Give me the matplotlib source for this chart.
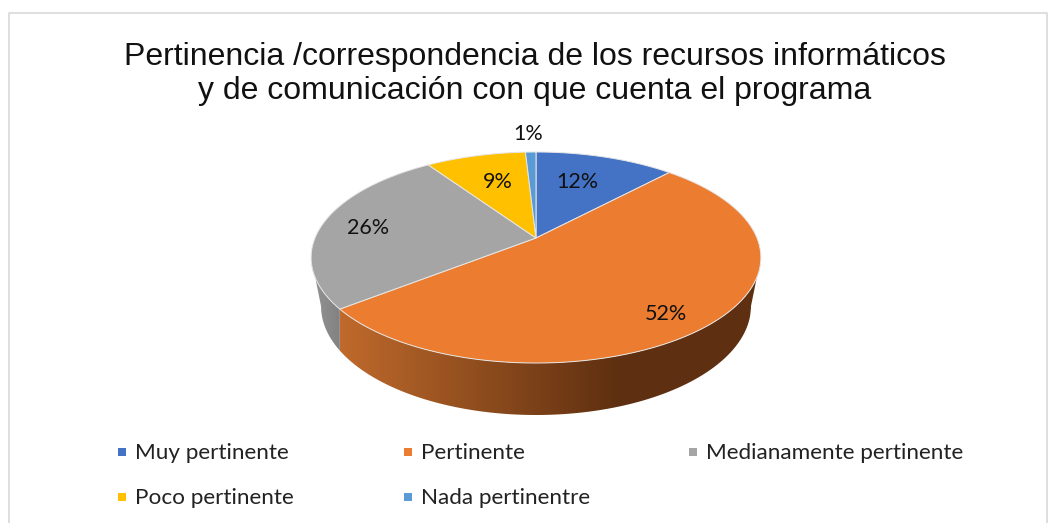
import numpy as np
import matplotlib
matplotlib.use('Agg')
import matplotlib.pyplot as plt
from matplotlib.colors import LinearSegmentedColormap
from matplotlib.patches import Polygon

categories = ['Muy pertinente', 'Pertinente', 'Medianamente pertinente', 'Poco pertinente', 'Nada pertinentre']
values = [12.0, 52.4, 26.1, 8.6, 0.9]
colors = ['#4472C4', '#EC7C30', '#A5A5A5', '#FFC000', '#5B9BD5']
title_lines = ['Pertinencia /correspondencia de los recursos informáticos',
               'y de comunicación con que cuenta el programa']

# layout, everything in image pixels
APEX = (536.0, 238.0)
TILT = 0.185
SCALE_X, SCALE_Y = 221.0, 101.9
TOP_MID = 257.0
BOT_MID, BOT_R = 306.0, (215.0, 109.0)
label_pos = [(577, 182), (666, 314), (368, 228), (498, 182), (528, 134)]
legend_pos = [(122, 452), (408, 452), (693, 452), (122, 497), (408, 497)]


# disc seen in perspective: far half squeezed, so the apex sits above the ellipse centre
def project(r, deg):
    a = np.radians(deg)
    x, y = r * np.sin(a), r * np.cos(a)
    d = 1 + TILT * y
    return APEX[0] + SCALE_X * x / d, APEX[1] - SCALE_Y * y / d


# bottom rim straight below the top rim, clamped where the lower disc is narrower
def lower(px):
    dx = np.clip((px - APEX[0]) / BOT_R[0], -1, 1)
    return APEX[0] + dx * BOT_R[0], BOT_MID + BOT_R[1] * np.sqrt(1 - dx ** 2)


def side(a0, a1, cmap, x0, x1):
    ang = np.linspace(a0, a1, 300)
    px, py = project(1.0, ang)
    keep = py >= TOP_MID
    if not keep.any():
        return
    px, py = px[keep], py[keep]
    bx, by = lower(px)
    pts = np.column_stack([np.r_[px, bx[::-1]], np.r_[py, by[::-1]]])
    poly = Polygon(pts, closed=True, fc='none', ec='none')
    ax.add_patch(poly)
    grad = np.linspace(0, 1, 256).reshape(1, -1)
    im = ax.imshow(grad, cmap=cmap, extent=(x0, x1, 430, 240), aspect='auto', zorder=2)
    im.set_clip_path(poly)


fig = plt.figure(figsize=(10.53, 5.23), dpi=100)
ax = fig.add_axes([0, 0, 1, 1])

edges = np.r_[0, np.cumsum(values)] / np.sum(values) * 360

orange_side = LinearSegmentedColormap.from_list('o', ['#C06A2C', '#8F4D1E', '#5E2F10', '#5E2F10'])
grey_side = LinearSegmentedColormap.from_list('g', ['#959595', '#7E7E7E'])
side(edges[1], edges[2], orange_side, 338, 760)
side(edges[2], edges[3], grey_side, 311, 345)

for i in range(len(values)):
    ang = np.linspace(edges[i], edges[i + 1], 120)
    px, py = project(1.0, ang)
    pts = np.column_stack([np.r_[APEX[0], px], np.r_[APEX[1], py]])
    ax.add_patch(Polygon(pts, closed=True, fc=colors[i], ec='#E6E6E6', lw=0.7, zorder=3))
    lx, ly = label_pos[i]
    ax.text(lx, ly, '%.0f%%' % values[i], ha='center', va='center', fontsize=15.5,
            family='Lato', color='#111111', zorder=4)

for i, name in enumerate(categories):
    mx, my = legend_pos[i]
    ax.plot([mx], [my], marker='s', ms=5.5, mew=0, color=colors[i], ls='none', zorder=4)
    ax.text(mx + 13, my + 1, name, ha='left', va='center', fontsize=16.2, family='Lato', color='#222222')

for line, y in zip(title_lines, [57, 91]):
    ax.text(535, y, line, ha='center', va='center', fontsize=23, family='Liberation Sans', color='#111111')

# frame of the pasted chart
ax.plot([9, 9, 1047, 1047], [523, 13, 13, 523], color='#D9D9D9', lw=1.2, zorder=1)

ax.set_xlim(0, 1053)
ax.set_ylim(523, 0)
ax.axis('off')
fig.savefig('out.png', dpi=100)
